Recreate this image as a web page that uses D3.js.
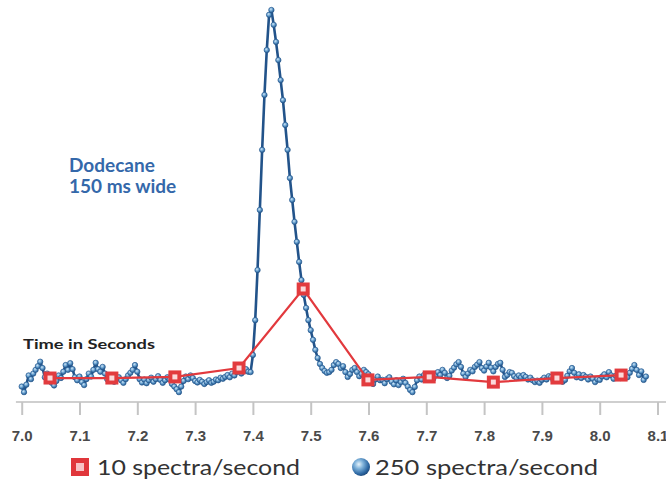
<!DOCTYPE html>
<html>
<head>
<meta charset="utf-8">
<script src="https://cdn.jsdelivr.net/npm/d3@7"></script>
<style>
  body { margin: 0; background: #fff; }
  svg { display: block; }
</style>
</head>
<body>
<div id="chart-area"></div>
<script>
const W = 666, H = 480

// 250 spectra/second trace (arbitrary intensity, peak = 100)
const fastStart = 7.0
const fastRate = 250
const fastValues = [
  -1.5, -3.0, -1.0, 1.5, 0.5, 2.0, 3.0, 4.0, 5.2, 3.5,
  1.0, 2.0, 0.5, -0.5, -1.2, 0.0, 1.5, 0.8, 2.5, 4.3,
  3.0, 4.8, 3.2, 1.0, 0.2, 1.2, -0.3, -1.1, 0.5, 2.0,
  1.2, 3.0, 4.9, 3.2, 2.5, 3.8, 2.0, 0.5, 0.2, 0.8,
  -0.2, 0.6, 1.0, 0.2, -0.5, 0.5, 1.5, 2.2, 3.0, 4.3,
  2.5, 0.5, -0.4, 0.4, -0.6, 0.2, 0.9, -0.2, 0.5, 1.3,
  0.3, -0.5, 0.2, 1.0, 0.4, -0.8, -1.5, -2.2, -3.0, -1.5,
  0.0, 1.2, 0.5, 1.5, 0.8, 0.0, -0.4, 0.3, -0.2, -0.8,
  -0.3, 0.2, -0.5, -0.2, 0.4, 0.2, 0.9, 0.6, 1.1, 1.6,
  1.0, 2.0, 1.5, 2.4, 2.8, 2.0, 2.6, 3.2, 2.5, 2.4,
  7.0, 16.4, 29.9, 46.1, 62.3, 77.1, 89.2, 98.7, 100, 96.0,
  91.4, 86.5, 81.1, 75.7, 69.0, 62.3, 54.7, 48.8, 42.9, 37.5,
  32.1, 27.2, 23.2, 19.7, 16.4, 13.7, 11.1, 8.4, 6.2, 4.6,
  3.5, 2.7, 2.2, 2.4, 3.0, 4.3, 5.1, 4.6, 3.5, 4.0,
  2.4, 1.1, 1.9, 3.0, 3.5, 2.4, 1.3, 1.9, 3.0, 2.4,
  1.8, 0.5, -0.8, 0.4, 1.2, 0.2, 0.3, -0.6, 0.5, 1.0,
  -0.2, -0.9, 0.2, -1.1, -0.3, 0.6, -0.5, -1.5, -2.4, -3.0,
  -1.6, 0.2, 1.2, 0.4, 1.6, 0.9, 0.8, 1.8, 0.6, 1.5,
  2.4, 1.6, 3.0, 2.2, 0.8, 1.4, 2.8, 3.6, 4.5, 5.1,
  3.8, 2.0, 1.1, 2.0, 3.0, 2.6, 3.8, 4.4, 5.1, 3.5,
  2.8, 3.9, 4.9, 3.6, 2.6, 3.8, 4.6, 4.9, 3.0, 1.1,
  1.6, 2.4, 2.2, 1.3, 0.8, 1.5, 1.0, 1.6, 1.1, 0.4,
  0.9, 0.2, -0.3, 0.1, -0.5, 0.3, 0.9, 0.4, 1.3, 1.1,
  0.2, 0.8, 1.5, 0.6, -0.2, 0.3, 1.4, 2.6, 3.5, 2.2,
  1.0, 1.8, 0.8, 1.6, 1.1, 0.4, 1.2, 0.6, -0.3, 0.5,
  0.3, 1.2, 1.8, 1.0, 2.4, 1.5, 0.6, 1.4, 2.0, 0.8,
  1.1, 1.8, 1.0, 2.2, 3.3, 4.3, 3.0, 1.6, 2.6, 0.3,
  1.2
]

// 10 spectra/second trace
const slowTimes = [7.049, 7.156, 7.265, 7.376, 7.487, 7.599, 7.705, 7.816, 7.926, 8.037]
const slowValues = [0.8, 0.8, 1.1, 3.5, 24.8, 0.3, 1.1, -0.3, 0.8, 1.6]

const tickValues = [7.0, 7.1, 7.2, 7.3, 7.4, 7.5, 7.6, 7.7, 7.8, 7.9, 8.0, 8.1]
const legendLabels = ["10 spectra/second", "250 spectra/second"]

const fastData = fastValues.map((v, i) => ({ t: fastStart + i / fastRate, v: v }))
const slowData = slowTimes.map((t, i) => ({ t: t, v: slowValues[i] }))

const svg = d3.select("#chart-area").append("svg")
  .attr("width", W)
  .attr("height", H)

const defs = svg.append("defs")
const bead = defs.append("radialGradient").attr("id", "bead")
  .attr("cx", "40%").attr("cy", "35%").attr("r", "65%")
bead.append("stop").attr("offset", "0%").attr("stop-color", "#cfe6f6")
bead.append("stop").attr("offset", "55%").attr("stop-color", "#5f9acb")
bead.append("stop").attr("offset", "100%").attr("stop-color", "#245689")

const ball = defs.append("radialGradient").attr("id", "ball")
  .attr("cx", "38%").attr("cy", "35%").attr("r", "70%")
ball.append("stop").attr("offset", "0%").attr("stop-color", "#e6f3fb")
ball.append("stop").attr("offset", "35%").attr("stop-color", "#7fb2da")
ball.append("stop").attr("offset", "75%").attr("stop-color", "#2f6aa5")
ball.append("stop").attr("offset", "100%").attr("stop-color", "#1b4575")

const x = d3.scaleLinear()
  .domain([7.0, 8.1])
  .range([21.7, 657.5])
const y = d3.scaleLinear()
  .domain([0, 100])
  .range([381, 10])

const AXIS_Y = 402

// axis
svg.append("line")
  .attr("x1", x(6.99)).attr("x2", W)
  .attr("y1", AXIS_Y).attr("y2", AXIS_Y)
  .attr("stroke", "#cfcfcf").attr("stroke-width", 2)

const xAxisCall = d3.axisBottom(x)
  .tickValues(tickValues)
  .tickFormat(d3.format(".1f"))
  .tickSize(13)
  .tickPadding(15)

const xAxis = svg.append("g")
  .attr("transform", `translate(0, ${AXIS_Y})`)
  .call(xAxisCall)
xAxis.select(".domain").remove()
xAxis.selectAll(".tick line")
  .attr("stroke", "#c4c4c4").attr("stroke-width", 2)
xAxis.selectAll(".tick text")
  .attr("fill", "#4a4a4a")
  .attr("font-family", "'Liberation Sans', Arial, sans-serif")
  .attr("font-weight", "bold")
  .attr("font-size", "15px")

// 250 spectra/second
const fastLine = d3.line().x(d => x(d.t)).y(d => y(d.v))
svg.append("path")
  .datum(fastData)
  .attr("fill", "none")
  .attr("stroke", "#22538a")
  .attr("stroke-width", 2.6)
  .attr("stroke-linejoin", "round")
  .attr("d", fastLine)

svg.append("g").selectAll("circle")
  .data(fastData)
  .enter().append("circle")
  .attr("cx", d => x(d.t))
  .attr("cy", d => y(d.v))
  .attr("r", 2.7)
  .attr("fill", "url(#bead)")
  .attr("stroke", "#275a90")
  .attr("stroke-width", 0.7)

// 10 spectra/second
const slowLine = d3.line().x(d => x(d.t)).y(d => y(d.v))
svg.append("path")
  .datum(slowData)
  .attr("fill", "none")
  .attr("stroke", "#e2393d")
  .attr("stroke-width", 2.2)
  .attr("d", slowLine)

const sq = svg.append("g").selectAll("g")
  .data(slowData)
  .enter().append("g")
  .attr("transform", d => `translate(${x(d.t)}, ${y(d.v)})`)
sq.append("rect")
  .attr("x", -6.5).attr("y", -6.5).attr("width", 13).attr("height", 13)
  .attr("fill", "#e23b3e")
sq.append("rect")
  .attr("x", -2.5).attr("y", -2.5).attr("width", 5).attr("height", 5)
  .attr("fill", "#fbd9da")

// labels
const label = svg.append("g")
  .attr("font-family", "Lato, 'Open Sans', sans-serif")
label.append("text")
  .attr("x", 23).attr("y", 349)
  .attr("font-size", "14px")
  .attr("font-weight", "bold")
  .attr("fill", "#222")
  .attr("textLength", 132)
  .attr("lengthAdjust", "spacingAndGlyphs")
  .text("Time in Seconds")

label.append("text")
  .attr("x", 69).attr("y", 172)
  .attr("font-size", "19px")
  .attr("font-weight", "bold")
  .attr("fill", "#3468aa")
  .text("Dodecane")
label.append("text")
  .attr("x", 69).attr("y", 193)
  .attr("font-size", "19px")
  .attr("font-weight", "bold")
  .attr("fill", "#3468aa")
  .text("150 ms wide")

// legend
const legend = svg.append("g")
const lg1 = legend.append("g").attr("transform", "translate(80, 467)")
lg1.append("rect")
  .attr("x", -9).attr("y", -9).attr("width", 18).attr("height", 18)
  .attr("fill", "#e0363b")
lg1.append("rect")
  .attr("x", -4).attr("y", -4).attr("width", 8).attr("height", 8)
  .attr("fill", "#f7c3c5")
lg1.append("text")
  .attr("x", 17).attr("y", 8)
  .attr("font-family", "Lato, 'Open Sans', sans-serif")
  .attr("font-size", "22px")
  .attr("fill", "#333")
  .attr("textLength", 203)
  .attr("lengthAdjust", "spacingAndGlyphs")
  .text(legendLabels[0])

const lg2 = legend.append("g").attr("transform", "translate(361, 467)")
lg2.append("circle")
  .attr("r", 9)
  .attr("fill", "url(#ball)")
lg2.append("text")
  .attr("x", 14).attr("y", 8)
  .attr("font-family", "Lato, 'Open Sans', sans-serif")
  .attr("font-size", "22px")
  .attr("fill", "#333")
  .attr("textLength", 223)
  .attr("lengthAdjust", "spacingAndGlyphs")
  .text(legendLabels[1])
</script>
</body>
</html>
